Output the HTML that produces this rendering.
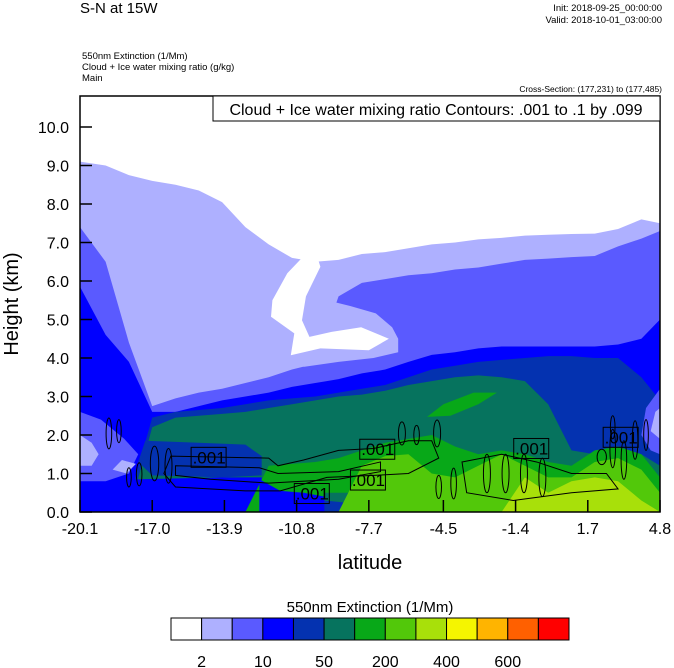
<!DOCTYPE html>
<html><head><meta charset="utf-8">
<style>
body{margin:0;background:#fff;}
svg{display:block;font-family:"Liberation Sans",sans-serif;}
</style></head>
<body>
<svg id="c" width="674" height="668" viewBox="0 0 674 668" xmlns="http://www.w3.org/2000/svg">
<defs><clipPath id="pc"><rect x="80" y="96" width="580" height="416"/></clipPath></defs>
<text x="80" y="13" font-size="15">S-N at 15W</text>
<text x="662" y="11" font-size="9.5" text-anchor="end">Init: 2018-09-25_00:00:00</text>
<text x="662" y="23" font-size="9.5" text-anchor="end">Valid: 2018-10-01_03:00:00</text>
<text x="82" y="59" font-size="9.5">550nm Extinction   (1/Mm)</text>
<text x="82" y="70" font-size="9.5">Cloud + Ice water mixing ratio   (g/kg)</text>
<text x="82" y="81" font-size="9.5">Main</text>
<text x="662" y="92" font-size="8.5" text-anchor="end">Cross-Section: (177,231) to (177,485)</text>
<g id="field" clip-path="url(#pc)"></g>
<g id="cont" clip-path="url(#pc)"></g>
<rect x="80" y="96" width="580" height="416" fill="none" stroke="#000" stroke-width="1.5"/>
<rect x="213" y="96" width="447" height="25" fill="#fff" stroke="#000" stroke-width="1"/>
<text x="436" y="115" font-size="16" text-anchor="middle">Cloud + Ice water mixing ratio Contours: .001 to .1 by .099</text>
<g id="axes"></g>
<text x="370" y="569" font-size="20" text-anchor="middle">latitude</text>
<text transform="translate(18,304) rotate(-90)" font-size="20" text-anchor="middle">Height (km)</text>
<text x="370" y="612" font-size="15" text-anchor="middle">550nm Extinction  (1/Mm)</text>
<g id="cbar"></g>
</svg>
<script>
const lats=[-20.1,-19,-18,-17,-16,-15,-14,-13,-12,-11,-10,-9,-8,-7,-6,-5,-4,-3,-2,-1,0,1,2,3,4,4.8];
const lvl2=[9.1,9.0,8.75,8.6,8.5,8.35,8.05,7.4,6.95,6.6,6.5,6.55,6.7,6.75,6.85,6.95,7.0,7.08,7.12,7.18,7.2,7.22,7.23,7.35,7.6,7.5];
const lvl3=[7.4,6.5,4.4,2.75,2.95,3.1,3.2,3.35,3.5,3.7,3.85,5.6,5.95,6.05,6.15,6.2,6.3,6.35,6.45,6.55,6.58,6.62,6.65,6.9,7.1,7.3];
const lvl4=[5.85,4.6,3.9,2.6,2.6,2.75,2.9,3.0,3.1,3.25,3.35,3.45,3.6,3.7,3.9,4.08,4.15,4.25,4.3,4.3,4.3,4.3,4.3,4.35,4.5,5.0];
const lvl5=[0,0,0.3,2.45,2.6,2.65,2.7,2.8,2.9,2.95,3.0,3.1,3.2,3.3,3.5,3.7,3.8,3.9,3.95,4.0,4.05,4.05,4.0,4.0,3.5,2.9];
const lvl6=[0,0,0,2.2,2.45,2.5,2.55,2.6,2.7,2.8,2.9,3.0,3.05,3.15,3.3,3.4,3.5,3.55,3.5,3.4,2.8,1.6,1.5,1.6,1.5,1.2];
const lvl7=[0,0,0,0,0,0,0,0.0,1.2,1.25,1.3,1.4,1.6,1.8,1.9,2.0,1.7,1.5,1.6,1.5,1.3,1.2,1.6,1.7,1.5,0.9];
const lvl8=[0,0,0,0,0,0,0,0,0,0,0,0,1.2,1.45,1.5,1.0,0.9,1.2,1.5,1.2,0.9,0.9,1.3,1.4,1.1,0.5];
const lvl9=[0,0,0,0,0,0,0,0,0,0,0,0,0,0,0,0,0,0,0,0.9,0.5,0.8,0.9,0.8,0.3,0];
const whitePocket=[[-10.57,6.6],[-11.2,6.2],[-11.84,5.5],[-11.9,5.07],[-10.9,4.64],[-11.05,4.07],[-9.78,4.25],[-7.7,4.2],[-6.84,4.5],[-8.03,4.8],[-9.3,4.68],[-10.25,4.55],[-10.57,4.98],[-10.4,5.6],[-9.78,6.37],[-9.9,6.6]];
const lavenderTongue=[[-9.5,5.5],[-8.5,5.35],[-7.4,5.16],[-6.7,4.8],[-6.44,4.5],[-6.44,4.15],[-7.5,4.0],[-9,3.9],[-10.5,3.77],[-10.7,5.6],[-10.2,5.7]];
const rightMedium=[[4.0,2.0],[4.2,2.7],[4.8,3.2],[4.8,1.5],[4.4,1.6]];
const rightLavender=[[4.4,2.1],[4.6,2.6],[4.8,2.7],[4.8,1.9]];
const leftMedium=[[-20.1,0.8],[-20.1,2.6],[-19.2,2.4],[-18.2,1.9],[-17.6,1.5],[-18,1.0],[-19,0.8]];
const leftLavender=[[-20.1,1.2],[-20.1,2.0],[-19.6,1.8],[-19.3,1.5],[-19.6,1.2]];
const leftLavender2=[[-18.7,1.1],[-18.3,1.35],[-17.7,1.25],[-18.1,1.0]];
const darkBlueBand=[[-17.3,1.85],[-15,1.8],[-13,1.75],[-12.3,1.45],[-12.3,0.95],[-14,0.9],[-17,0.95],[-17.6,1.3]];
const blueFloor=[[-20.1,0],[-20.1,0.8],[-17.5,0.85],[-14,0.9],[-12.3,0.9],[-12.3,0]];
const blueFloorRight=[[-12.4,0],[-12.4,0.85],[-11.5,0.55],[-10.5,0.5],[-9.6,0.4],[-9.6,0]];
const tealFloor=[[-9.6,0],[-9.6,0.5],[-8,0.5],[-7,0.45],[-6,0.3],[-6,0]];
const darkBlueFloor=[[-9.6,0],[-9.6,0.3],[-8.8,0.25],[-8.5,0]];
const greenBlob=[[-5.2,2.47],[-4.5,2.8],[-3.2,3.1],[-2.2,3.1],[-3,2.8],[-4.2,2.5]];
const contourOuter=[[-16.2,1.45],[-12,1.4],[-11.6,1.2],[-10.5,1.35],[-9,1.6],[-7.5,1.65],[-6,1.85],[-5,1.85],[-4.7,1.4],[-6,1.0],[-7.5,0.95],[-9.5,0.9],[-11.5,0.55],[-13,0.55],[-16,0.65],[-16.5,1.0],[-16.2,1.45]];
const contourInner=[[-16,1.2],[-12.4,1.15],[-11.6,1.0],[-9,1.05],[-7.2,1.3],[-7.2,1.05],[-9,0.85],[-12,0.75],[-14.5,0.85],[-16,0.95],[-16,1.2]];
const contourRight=[[-3.7,1.3],[-2,1.5],[-0.5,1.3],[1,1.0],[2.5,1.0],[3,0.6],[1,0.5],[-1.5,0.3],[-3.5,0.5],[-3.7,1.3]];
const cells=[[-18.86,2.04,0.12,0.4],[-18.43,2.1,0.1,0.3],[-16.9,1.26,0.18,0.45],[-16.3,1.2,0.15,0.45],[-17.56,0.98,0.12,0.3],[-18.0,0.9,0.1,0.25],[-6.28,2.04,0.15,0.3],[-5.65,2.0,0.12,0.25],[-4.77,2.04,0.15,0.35],[-4.06,0.74,0.12,0.4],[-4.7,0.65,0.12,0.3],[-2.63,1.0,0.15,0.5],[-1.83,1.0,0.15,0.5],[-1.04,1.0,0.15,0.5],[-0.25,0.9,0.15,0.5],[2.3,1.43,0.2,0.2],[2.77,1.65,0.12,0.5],[3.25,1.35,0.12,0.5],[3.73,1.87,0.12,0.5],[2.77,2.2,0.1,0.3],[4.2,2.0,0.1,0.4]];
const labels=[[-14.6,1.42],[-10.17,0.48],[-7.76,0.83],[-7.36,1.63],[-0.75,1.65],[3.09,1.94]];
const yTicks=[0,1,2,3,4,5,6,7,8,9,10];
const xTicks=[-20.1,-17.0,-13.9,-10.8,-7.7,-4.5,-1.4,1.7,4.8];
const cbColors=["#ffffff","#aeb0ff","#5a5aff","#0000ff","#0432b0","#06735e","#08a818","#52c80a","#a8e00a","#f5f500","#ffb400","#ff6000","#ff0000"];
const cbLabels=["2","10","50","200","400","600"];

const NS="http://www.w3.org/2000/svg";
const X=v=>80+(v+20.1)/24.9*580;
const Y=v=>512-v*38.5;
function mk(t,a,p){const e=document.createElementNS(NS,t);for(const k in a)e.setAttribute(k,a[k]);p.appendChild(e);return e;}
const field=document.getElementById('field');
const bg=mk('rect',{x:80,y:96,width:580,height:416,fill:'#ffffff'},field);


function profile(arr,ci,name){
  let pts=lats.map((l,i)=>X(l)+','+Y(arr[i]));
  pts.push(X(lats[lats.length-1])+','+Y(0));pts.push(X(lats[0])+','+Y(0));
  const p=mk('polygon',{points:pts.join(' '),fill:cbColors[ci]},field);
  
  
}
function blob(arr,fill,name,parent,stroke){
  const p=mk('polygon',{points:arr.map(q=>X(q[0])+','+Y(q[1])).join(' '),fill:fill},parent);
  if(stroke){p.setAttribute('stroke',stroke);p.setAttribute('stroke-width','1');}
  
  
}
profile(lvl2,1,'level-2-region');
profile(lvl3,2,'level-10-region');
blob(lavenderTongue,cbColors[1],'lavender-tongue',field);
blob(whitePocket,cbColors[0],'clear-air-pocket',field);
profile(lvl4,3,'level-20-region');
profile(lvl5,4,'level-50-region');
profile(lvl6,5,'level-100-region');
blob(darkBlueBand,cbColors[4],'dark-blue-band',field);
blob(blueFloor,cbColors[3],'blue-floor',field);
blob(leftMedium,cbColors[2],'left-edge-medium-blob',field);
blob(leftLavender,cbColors[1],'left-edge-lavender-blob',field);
blob(leftLavender2,cbColors[1],'left-lavender-spot',field);
blob(rightMedium,cbColors[2],'right-edge-medium-blob',field);
blob(rightLavender,cbColors[1],'right-edge-lavender-blob',field);
profile(lvl7,6,'level-200-region');
blob(blueFloorRight,cbColors[3],'blue-floor-under-green',field);
blob(tealFloor,cbColors[5],'teal-floor',field);
blob(darkBlueFloor,cbColors[4],'dark-blue-floor',field);
blob(greenBlob,cbColors[6],'elevated-aerosol-blob',field);
profile(lvl8,7,'level-300-region');
profile(lvl9,8,'level-400-region');

const cont=document.getElementById('cont');
blob(contourOuter,'none','contour-outer',cont,'#000');
blob(contourInner,'none','contour-inner',cont,'#000');
blob(contourRight,'none','contour-right',cont,'#000');
cells.forEach(c=>{
  const e=mk('ellipse',{cx:X(c[0]),cy:Y(c[1]),rx:c[2]*23.3,ry:c[3]*38.5,fill:'none',stroke:'#000','stroke-width':1},cont);
  
  
});
labels.forEach(l=>{
  const g=mk('g',{},cont);
  
  
  mk('rect',{x:X(l[0])-17,y:Y(l[1])-10,width:35,height:20,fill:'none',stroke:'#000','stroke-width':1},g);
  const t=mk('text',{x:X(l[0])+1,y:Y(l[1])+6,'font-size':17,'text-anchor':'middle'},g);
  t.textContent='.001';
});

const axes=document.getElementById('axes');
yTicks.forEach(v=>{
  const ln=mk('line',{x1:80,x2:92,y1:Y(v),y2:Y(v),stroke:'#000','stroke-width':1.5},axes);
  
  
  const t=mk('text',{x:69,y:Y(v)+6,'font-size':16,'text-anchor':'end'},axes);
  t.textContent=v.toFixed(1);
  
  
});
xTicks.forEach(v=>{
  const ln=mk('line',{x1:X(v),x2:X(v),y1:512,y2:500,stroke:'#000','stroke-width':1.5},axes);
  
  
  const t=mk('text',{x:X(v),y:534,'font-size':16,'text-anchor':'middle'},axes);
  t.textContent=v.toFixed(1);
  
  
});

const cb=document.getElementById('cbar');
const bw=398/cbColors.length;
cbColors.forEach((c,i)=>{
  const r=mk('rect',{x:171+i*bw,y:618,width:bw,height:22,fill:c,stroke:'#000','stroke-width':1},cb);
  
  
});
cbLabels.forEach((s,i)=>{
  const t=mk('text',{x:171+(i*2+1)*bw,y:667,'font-size':16,'text-anchor':'middle'},cb);
  t.textContent=s;
  
  
});
</script>
</body></html>
